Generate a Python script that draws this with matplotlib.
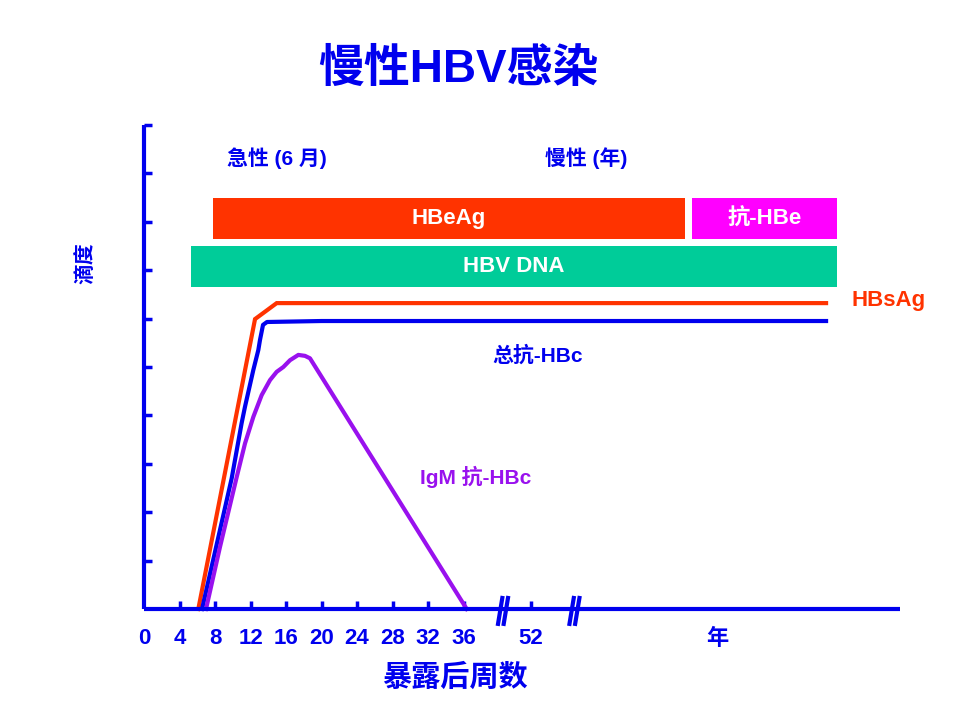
import matplotlib
matplotlib.use("Agg")
import matplotlib.pyplot as plt

# ---------------- data ----------------
title = "慢性HBV感染"
ylabel = "滴度"
xlabel = "暴露后周数"

# x positions on the (broken) axis, in plotted units
tick_pos = [4, 8, 12, 16, 20, 24, 28, 32, 36, 43.6]
tick_labels = ["4", "8", "12", "16", "20", "24", "28", "32", "36", "52"]
extra_pos = [0, 64.6]
extra_labels = ["0", "年"]
break_pos = [40.45, 48.5]
ytick_pos = [1, 2, 3, 4, 5, 6, 7, 8, 9, 10]

hbsag_x = [6.12, 12.51, 14.95, 76.85]
hbsag_y = [0.0, 5.99, 6.32, 6.32]

hbc_x = [6.54, 9.88, 11.0, 11.38, 12.32, 12.88, 13.07, 13.41, 13.86, 20.0, 76.85]
hbc_y = [0.0, 2.70, 3.84, 4.18, 4.94, 5.35, 5.56, 5.87, 5.93, 5.95, 5.95]

igm_x = [6.99, 8.56, 10.45, 11.38, 12.32, 13.26, 14.20, 14.95, 15.70, 16.45, 17.39, 18.14, 18.70, 36.36]
igm_y = [0.0, 1.28, 2.73, 3.42, 3.97, 4.42, 4.73, 4.90, 5.00, 5.14, 5.25, 5.23, 5.18, 0.0]

bar_labels = ["HBeAg", "抗-HBe", "HBV DNA"]
bar_start = [7.72, 61.8, 5.30]
bar_end = [60.96, 78.03, 78.03]
bar_low = [7.64, 7.64, 6.65]
bar_high = [8.49, 8.49, 7.49]
bar_colors = ["#ff3300", "#ff00ff", "#00cc99"]

BLUE = "#0000ee"
RED = "#ff3300"
PURPLE = "#9911ee"

LAT = ["Liberation Sans Narrow", "Liberation Sans", "Noto Sans CJK SC", "DejaVu Sans"]
LAT_CJK_FIRST = ["Noto Sans CJK SC", "DejaVu Sans"]
plt.rcParams["font.family"] = LAT

# ---------------- figure ----------------
fig = plt.figure(figsize=(9.6, 7.2), dpi=100)
ax = fig.add_axes([144 / 960, (720 - 609) / 720, (900 - 144) / 960, (609 - 125) / 720])
ax.set_xlim(0, 85.18)
ax.set_ylim(0, 10)

for s in ["top", "right"]:
    ax.spines[s].set_visible(False)
for s in ["left", "bottom"]:
    ax.spines[s].set_color(BLUE)
    ax.spines[s].set_linewidth(3)
    ax.spines[s].set_capstyle("butt")

# bars
for lab, x0, x1, y0, y1, c in zip(bar_labels, bar_start, bar_end, bar_low, bar_high, bar_colors):
    ax.barh((y0 + y1) / 2, x1 - x0, left=x0, height=y1 - y0, color=c, edgecolor="none")
    ax.text((x0 + x1) / 2, (y0 + y1) / 2, lab, color="white", fontsize=16, fontweight="bold",
            ha="center", va="center", family=LAT)

# curves
ax.plot(hbsag_x, hbsag_y, color=RED, lw=3, solid_joinstyle="miter", clip_on=False)
ax.plot(hbc_x, hbc_y, color=BLUE, lw=3, solid_joinstyle="round", clip_on=False)
ax.plot(igm_x, igm_y, color=PURPLE, lw=3, solid_joinstyle="round", clip_on=False)

# ticks
ax.set_xticks(tick_pos, tick_labels)
ax.set_xticks(extra_pos, extra_labels, minor=True)
ax.tick_params(axis="x", which="major", direction="in", length=6, width=2.5, color=BLUE,
               labelcolor=BLUE, labelsize=16, pad=14)
ax.tick_params(axis="x", which="minor", length=0, labelcolor=BLUE, labelsize=16, pad=14)
for lbl in ax.get_xticklabels() + ax.get_xticklabels(minor=True):
    lbl.set_fontweight("bold")
    lbl.set_family(LAT)
ax.set_yticks(ytick_pos, [""] * len(ytick_pos))
ax.tick_params(axis="y", direction="in", length=6, width=2.5, color=BLUE)

# axis breaks
for bp in break_pos:
    for off in (-0.32, 0.32):
        ax.plot([bp + off - 0.28, bp + off + 0.28], [-0.35, 0.27], color=BLUE, lw=3,
                clip_on=False, solid_capstyle="butt")

# annotations
ax.text(15.0, 9.32, "急性 (6 月)", color=BLUE, fontsize=15, fontweight="bold",
        ha="center", va="center", family=LAT)
ax.text(49.8, 9.32, "慢性 (年)", color=BLUE, fontsize=15, fontweight="bold",
        ha="center", va="center", family=LAT)
ax.text(79.66, 6.38, "HBsAg", color=RED, fontsize=16, fontweight="bold",
        ha="left", va="center", family=LAT, clip_on=False)
ax.text(44.4, 5.23, "总抗-HBc", color=BLUE, fontsize=15, fontweight="bold",
        ha="center", va="center", family=LAT)
ax.text(37.4, 2.73, "IgM 抗-HBc", color=PURPLE, fontsize=15, fontweight="bold",
        ha="center", va="center", family=LAT)

fig.text(458 / 960, 1 - 70 / 720, title, color=BLUE, fontsize=33, fontweight="bold",
         ha="center", va="center", family=["Liberation Sans", "Noto Sans CJK SC", "DejaVu Sans"])
fig.text(85 / 960, 1 - 263 / 720, ylabel, color=BLUE, fontsize=15, fontweight="bold",
         rotation=90, ha="center", va="center", family=LAT_CJK_FIRST)
fig.text(455 / 960, 1 - 677 / 720, xlabel, color=BLUE, fontsize=21, fontweight="bold",
         ha="center", va="center", family=LAT_CJK_FIRST)

fig.savefig("out.png", dpi=100, facecolor="white")
